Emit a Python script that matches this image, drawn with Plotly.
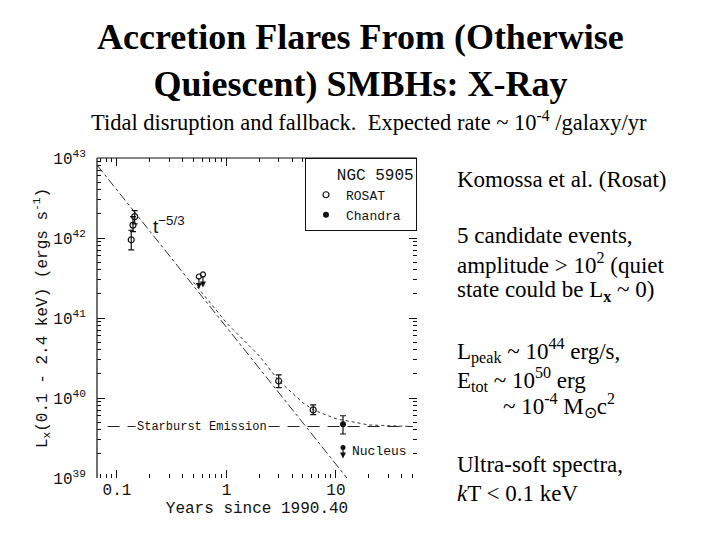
import numpy as np
import plotly.graph_objects as go

# ROSAT detections (years since 1990.40, erg/s)
rosat_t = [0.135, 0.14, 0.145, 3.0, 6.2]
rosat_lx = [0.95e42, 1.45e42, 1.85e42, 1.63e40, 7.1e39]
rosat_hi = [1.25e42, 1.85e42, 2.2e42, 1.95e40, 8.2e39]
rosat_lo = [0.71e42, 1.2e42, 1.5e42, 1.35e40, 6.2e39]

# Chandra detection
chandra_t = [11.6]
chandra_lx = [4.7e39]
chandra_hi = [6.0e39]
chandra_lo = [3.55e39]

# upper limits (tip of arrow)
ul_rosat_t = [0.56, 0.61]
ul_rosat_lx = [3.3e41, 3.5e41]
ul_rosat_tip = [2.3e41, 2.4e41]
ul_nuc_t = [11.6]
ul_nuc_lx = [2.4e39]
ul_nuc_tip = [1.75e39]

# t^-5/3 power law and power law + starburst
pl_t = [0.066, 12.6]
pl_lx = [8.1e42, 1.0e39]
sum_t = [0.5, 1, 2, 3, 5, 6.2, 10, 20, 50]
sum_lx = [2.8e41, 8.7e40, 3.35e40, 1.65e40, 8.7e39, 7.1e39, 5.5e39, 4.6e39, 4.4e39]
sb_t = [0.082, 50]
sb_lx = [4.4e39, 4.4e39]

MONO = "Liberation Mono"
SERIF = "Liberation Serif"

# plot area in pixels of the slide (left, right, top, bottom)
PL, PR, PT, PB = 97, 417, 155, 475
OFFX, OFFY = 8, 5  # page offset


def px(x, y):
    """slide pixel -> paper coords (paper = plot area in plotly)"""
    return (x - PL) / (PR - PL), (PB - y) / (PB - PT)


def errs(v, hi, lo):
    return ([h - x for x, h in zip(v, hi)], [x - l for x, l in zip(v, lo)])


minor_x = [m * 10.0 ** e for e in range(-2, 2) for m in range(2, 10)]
minor_y = [m * 10.0 ** e for e in range(39, 43) for m in range(2, 10)]

fig = go.Figure()
fig.add_trace(go.Scatter(x=pl_t, y=pl_lx, mode="lines", showlegend=False,
                         line=dict(color="#333", width=1, dash="dashdot")))
fig.add_trace(go.Scatter(x=sum_t, y=sum_lx, mode="lines", showlegend=False,
                         line=dict(color="#333", width=1, dash="dot")))
fig.add_trace(go.Scatter(x=sb_t, y=sb_lx, mode="lines", showlegend=False,
                         line=dict(color="#222", width=1, dash="12px,8px")))

up, dn = errs(rosat_lx, rosat_hi, rosat_lo)
fig.add_trace(go.Scatter(x=rosat_t, y=rosat_lx, mode="markers", name="ROSAT",
                         marker=dict(symbol="circle-open", size=6, color="#111", line=dict(width=1.2)),
                         error_y=dict(type="data", array=up, arrayminus=dn, color="#111", thickness=1.2, width=3)))
up, dn = errs(chandra_lx, chandra_hi, chandra_lo)
fig.add_trace(go.Scatter(x=chandra_t, y=chandra_lx, mode="markers", name="Chandra",
                         marker=dict(symbol="circle", size=6, color="#111"),
                         error_y=dict(type="data", array=up, arrayminus=dn, color="#111", thickness=1.2, width=3)))
fig.add_trace(go.Scatter(x=ul_rosat_t, y=ul_rosat_lx, mode="markers", showlegend=False,
                         marker=dict(symbol="circle-open", size=5, color="#111", line=dict(width=1.2))))
fig.add_trace(go.Scatter(x=ul_nuc_t, y=ul_nuc_lx, mode="markers", showlegend=False,
                         marker=dict(symbol="circle", size=5, color="#111")))

annotations = []
for t, top, tip in zip(ul_rosat_t + ul_nuc_t, ul_rosat_lx + ul_nuc_lx, ul_rosat_tip + ul_nuc_tip):
    annotations.append(dict(x=np.log10(t), y=np.log10(tip), xref="x", yref="y",
                            ax=np.log10(t), ay=np.log10(top), axref="x", ayref="y",
                            text="", showarrow=True, arrowhead=2, arrowsize=1, arrowwidth=1.2,
                            arrowcolor="#111"))

annotations += [
    dict(x=np.log10(0.3), y=np.log10(1.45e42), xref="x", yref="y", text="t<sup>−5/3</sup>",
         showarrow=False, font=dict(family="Liberation Sans", size=19, color="#111")),
    dict(x=np.log10(0.6), y=np.log10(4.4e39), xref="x", yref="y", text="Starburst Emission",
         showarrow=False, bgcolor="white", font=dict(family=MONO, size=12, color="#111")),
    dict(x=np.log10(13.5), y=np.log10(2.15e39), xref="x", yref="y", text="Nucleus",
         showarrow=False, xanchor="left", font=dict(family=MONO, size=13, color="#111")),
]

tx, ty = px(360, 12)
annotations.append(dict(x=tx, y=ty, xref="paper", yref="paper", xanchor="center", yanchor="top",
                        showarrow=False,
                        text="<b>Accretion Flares From (Otherwise<br>Quiescent) SMBHs: X-Ray</b>",
                        font=dict(family=SERIF, size=36, color="black")))
tx, ty = px(89, 118)
annotations.append(dict(x=tx, y=ty, xref="paper", yref="paper", xanchor="left", yanchor="middle",
                        showarrow=False,
                        text="Tidal disruption and fallback.  Expected rate ~ 10<sup>-4</sup> /galaxy/yr",
                        font=dict(family=SERIF, size=22.5, color="black")))

right_lines = [
    (176, "Komossa et al. (Rosat)", 0),
    (232, "5 candidate events,", 0),
    (260, "amplitude &gt; 10<sup>2</sup> (quiet", 0),
    (288, "state could be L<sub><b>x</b></sub> ~ 0)", 0),
    (348, "L<sub>peak</sub> ~ 10<sup>44</sup> erg/s,", 0),
    (376, "E<sub>tot</sub> ~ 10<sup>50</sup> erg", 0),
    (402, "~ 10<sup>-4</sup> M<sub>⊙</sub>c<sup>2</sup>", 46),
    (461, "Ultra-soft spectra,", 0),
    (490, "<i>k</i>T &lt; 0.1 keV", 0),
]
for ypx, txt, dx in right_lines:
    tx, ty = px(455 + dx, ypx)
    annotations.append(dict(x=tx, y=ty, xref="paper", yref="paper",
                            xanchor="left", yanchor="middle", showarrow=False, text=txt,
                            font=dict(family=SERIF, size=23, color="black")))

fig.update_layout(
    width=720, height=540,
    margin=dict(l=PL - OFFX, r=720 - PR + OFFX, t=PT - OFFY, b=540 - PB + OFFY),
    paper_bgcolor="white", plot_bgcolor="white",
    annotations=annotations,
    shapes=[
        dict(type="line", xref="paper", yref="paper", x0=0, x1=1, y0=1, y1=1, line=dict(color="#111", width=1.2)),
        dict(type="line", xref="paper", yref="paper", x0=0, x1=0, y0=0, y1=1, line=dict(color="#111", width=1.2)),
    ],
    legend=dict(x=1, y=1, xanchor="right", yanchor="top", bgcolor="white",
                bordercolor="#111", borderwidth=1, tracegroupgap=4,
                title=dict(text="   NGC 5905", font=dict(family=MONO, size=16, color="#111")),
                font=dict(family=MONO, size=13, color="#111")),
    xaxis=dict(type="log", range=[np.log10(0.0657), np.log10(55)], automargin=False,
               tickvals=[0.1, 1, 10], ticktext=["0.1", "1", "10"],
               ticks="inside", ticklen=8, tickcolor="#111", mirror="ticks",
               minor=dict(tickmode="array", tickvals=minor_x, ticks="inside", ticklen=4,
                          tickcolor="#111", showgrid=False),
               showgrid=False, zeroline=False, showline=False,
               tickfont=dict(family=MONO, size=16, color="#111"),
               title=dict(text="Years since 1990.40", standoff=0,
                          font=dict(family=MONO, size=16, color="#111"))),
    yaxis=dict(type="log", range=[39, 43], automargin=False,
               tickvals=[1e39, 1e40, 1e41, 1e42, 1e43],
               ticktext=["10<sup>39</sup>", "10<sup>40</sup>", "10<sup>41</sup>", "10<sup>42</sup>", "10<sup>43</sup>"],
               ticks="inside", ticklen=8, tickcolor="#111", mirror="ticks", ticklabelstandoff=10,
               minor=dict(tickmode="array", tickvals=minor_y, ticks="inside", ticklen=4,
                          tickcolor="#111", showgrid=False),
               showgrid=False, zeroline=False, showline=False,
               tickfont=dict(family=MONO, size=16, color="#111"),
               title=dict(text="L<sub>x</sub>(0.1 - 2.4 keV) (ergs s<sup>-1</sup>)", standoff=0,
                          font=dict(family=MONO, size=16, color="#111"))),
)

fig.write_html("out.html")
